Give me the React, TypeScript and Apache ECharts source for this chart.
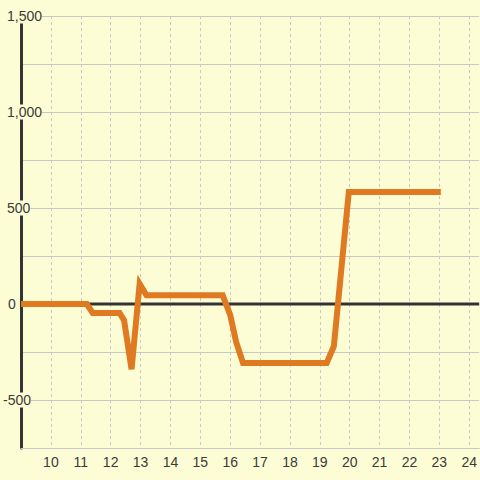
import React, { useEffect, useRef } from "react";
import * as echarts from "echarts";

// Series points: x positions and values
const xs: number[] = [9, 11.2, 11.4, 12.3, 12.45, 12.7, 12.97, 13.2, 15.75, 16.0, 16.2, 16.43, 19.23, 19.47, 19.97, 23.05];
const ys: number[] = [0, 0, -47, -47, -85, -340, 105, 45, 45, -57, -198, -307, -307, -220, 583, 583];

// Axis settings
const yTickLabels: number[] = [1500, 1000, 500, 0, -500];
const X_MIN = 9;
const X_MAX = 9 + 460 / 30;
const zeroLine: number[][] = [[X_MIN, 0], [X_MAX, 0]];

const BG = "#FDFDD5";
const TEXT = "#3a3a3a";
const FONT = "Liberation Sans";

function fmtNum(v: number): string {
  const s = Math.abs(v).toString().replace(/\B(?=(\d{3})+(?!\d))/g, ",");
  return (v < 0 ? "-" : "") + s;
}

export default function App() {
  const ref = useRef<HTMLDivElement>(null);
  useEffect(() => {
    if (!ref.current) return;
    const chart = echarts.init(ref.current, undefined, { renderer: "svg" });
    const richBase = { fontSize: 14, fontFamily: FONT, color: TEXT, lineHeight: 15 };
    chart.setOption({
      animation: false,
      backgroundColor: BG,
      grid: { left: 20, right: 0, top: 16, bottom: 32, containLabel: false },
      xAxis: {
        type: "value",
        min: X_MIN,
        max: X_MAX,
        interval: 1,
        axisLine: { show: true, onZero: false, lineStyle: { color: "#c8c8c8", width: 1 } },
        axisTick: { show: false },
        splitLine: {
          show: true,
          showMinLine: false,
          showMaxLine: false,
          lineStyle: { color: "#c8c8c8", width: 1, type: [3, 3] },
        },
        axisLabel: {
          margin: 7,
          fontSize: 14,
          fontFamily: FONT,
          color: TEXT,
          showMaxLabel: false,
          formatter: (v: number) => (v === 9 || !Number.isInteger(v) ? "" : String(v)),
        },
      },
      yAxis: {
        type: "value",
        min: -750,
        max: 1500,
        interval: 250,
        axisLine: { show: true, onZero: false, lineStyle: { color: "#333333", width: 3 } },
        axisTick: { show: false },
        splitLine: { show: true, lineStyle: { color: "#c8c8c8", width: 1 } },
        axisLabel: {
          margin: 18,
          align: "left",
          backgroundColor: BG,
          fontSize: 14,
          fontFamily: FONT,
          color: TEXT,
          lineHeight: 15,
          formatter: (v: number) => {
            if (!yTickLabels.includes(v)) return "";
            const t = fmtNum(v);
            if (v === 0) return "{z|" + t + "}";
            if (v < 0) return "{n|" + t + "}";
            return "{p|" + t + "}";
          },
          rich: {
            z: { ...richBase, padding: [0, 0, 0, 5] },
            n: { ...richBase, padding: [0, 0, 0, 0] },
            p: { ...richBase, padding: [0, 0, 0, 4] },
          },
        },
      },
      series: [
        {
          type: "line",
          data: zeroLine,
          symbol: "none",
          silent: true,
          z: 1,
          lineStyle: { color: "#333333", width: 3 },
        },
        {
          type: "line",
          data: xs.map((x, i) => [x, ys[i]]),
          symbol: "none",
          z: 3,
          lineStyle: { color: "#DF7A23", width: 6, join: "miter", cap: "butt" },
        },
      ],
    });
    return () => chart.dispose();
  }, []);
  return (
    <div
      ref={ref}
      style={{ position: "absolute", left: 0, top: 0, width: 480, height: 480 }}
    />
  );
}
